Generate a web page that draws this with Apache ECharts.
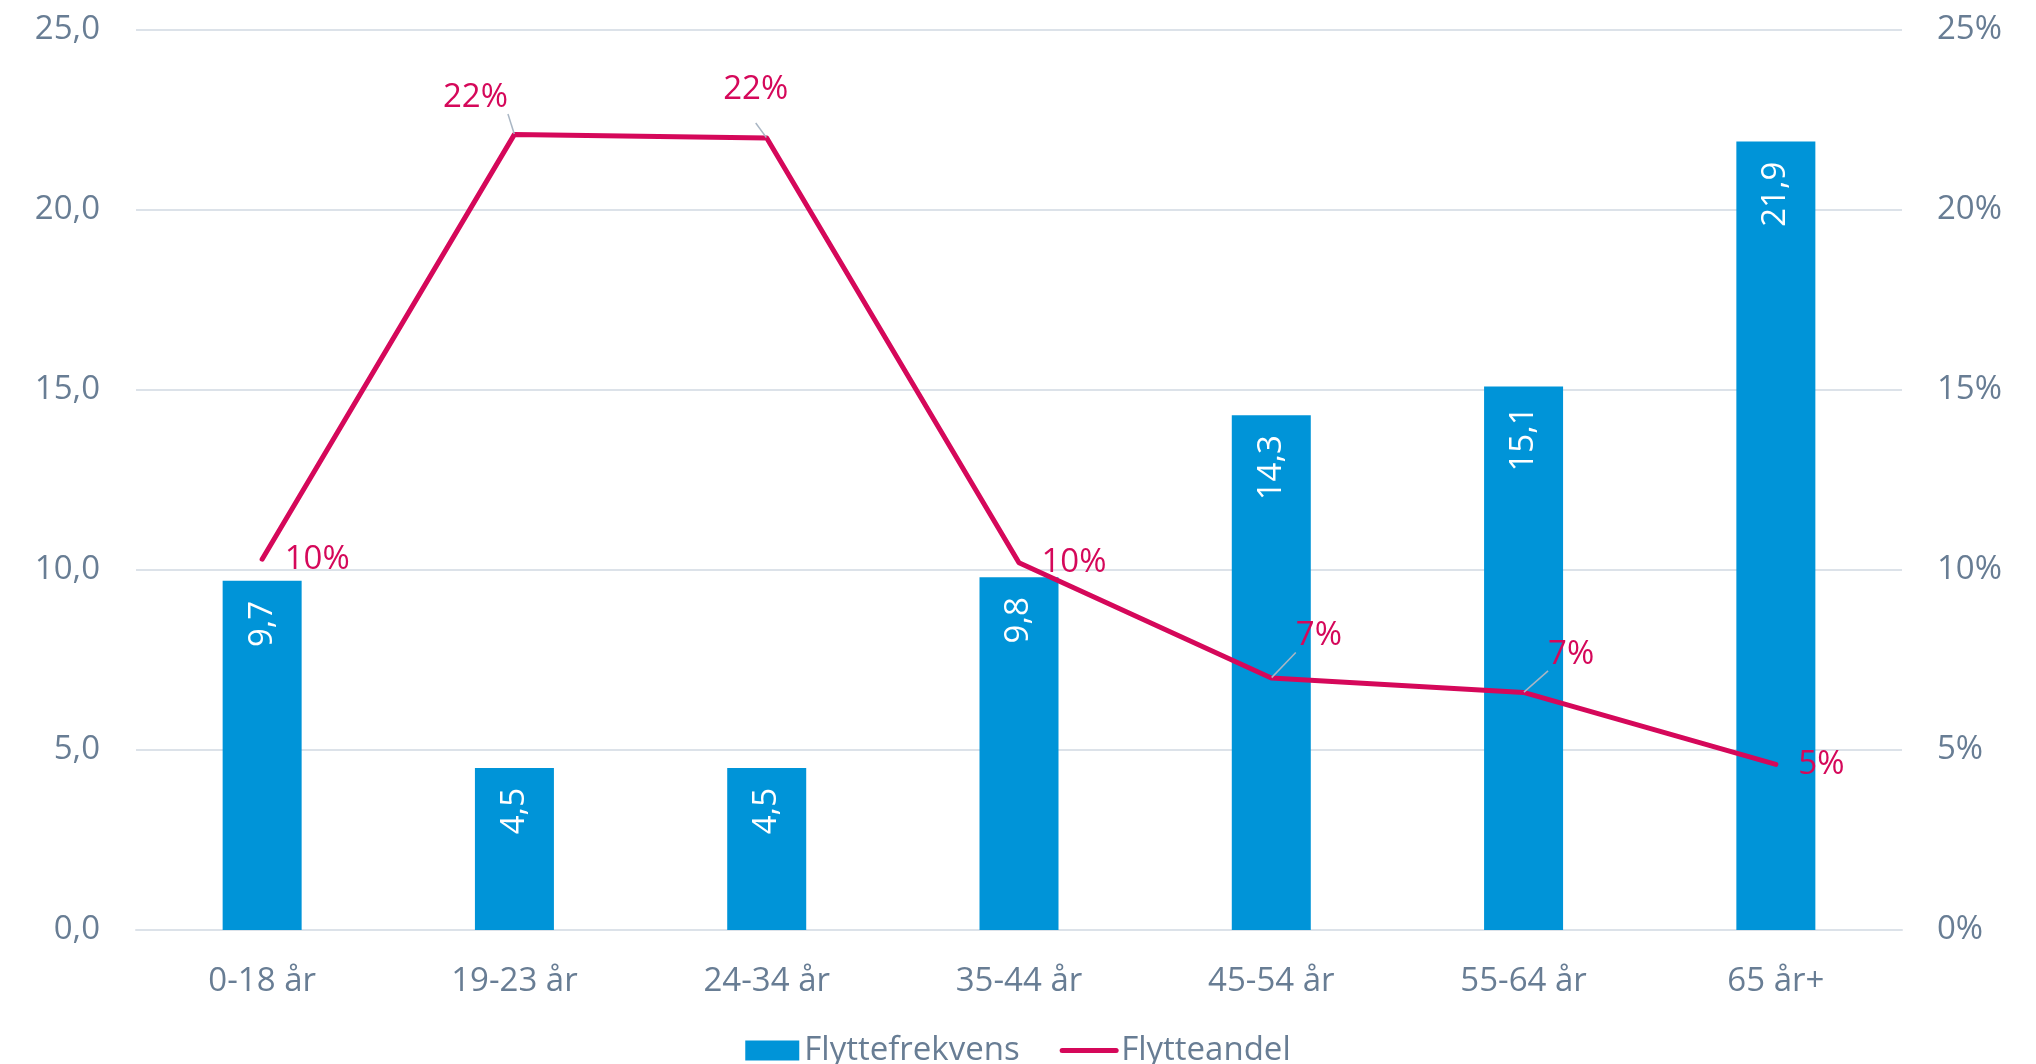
<!DOCTYPE html>
<html>
<head>
<meta charset="utf-8">
<script src="https://cdn.jsdelivr.net/npm/echarts@6/dist/echarts.min.js"></script>
<style>
  html, body { margin: 0; padding: 0; background: #fff; }
  #FlytteChart { width: 2036px; height: 1064px; }
</style>
</head>
<body>
<div id="FlytteChart"></div>
<script>
// data
const categories = ["0-18 år", "19-23 år", "24-34 år", "35-44 år", "45-54 år", "55-64 år", "65 år+"];
const flyttefrekvens = [9.7, 4.5, 4.5, 9.8, 14.3, 15.1, 21.9];
const flytteandel = [10.3, 22.1, 22.0, 10.2, 7.0, 6.6, 4.6];
const leftTicks = [0, 25, 5];   // min, max, interval
const rightTicks = [0, 25, 5];  // percent

// label nudges for the line labels (layout only)
const lineLabelOffsets = [[0, 0], [-94, -37], [-66, -48], [0, 0], [2, -42], [2, -38], [0, 0]];
const leaderShown = [false, true, true, false, true, true, false];

const textColor = "#687D94";
const gridColor = "#DCE2E9";
const blue = "#0094D8";
const red = "#D5085A";
const font = "Open Sans";

const comma = (v) => v.toFixed(1).replace(".", ",");

const lineData = flytteandel.map((v, i) => ({
  value: v,
  label: { offset: lineLabelOffsets[i] },
  labelLine: { show: leaderShown[i] },
}));

const option = {
  animation: false,
  backgroundColor: "#fff",
  textStyle: { fontFamily: font },
  grid: {
    left: 136,
    right: 134,
    top: 30,
    bottom: 134,
    containLabel: false,
    outerBoundsMode: "none",
  },
  legend: {
    top: 1029,
    left: "center",
    itemWidth: 54,
    itemHeight: 20,
    itemGap: 40,
    textStyle: { color: textColor, fontSize: 33, fontFamily: font },
    data: [
      { name: "Flyttefrekvens", icon: "rect" },
      {
        name: "Flytteandel",
        itemStyle: { opacity: 0 },
        lineStyle: { width: 5, cap: "round" },
      },
    ],
  },
  xAxis: {
    type: "category",
    data: categories,
    axisTick: { show: false },
    axisLine: { show: true, lineStyle: { color: gridColor, width: 2 } },
    axisLabel: { color: textColor, fontSize: 33, margin: 35, fontFamily: font },
  },
  yAxis: [
    {
      type: "value",
      min: leftTicks[0],
      max: leftTicks[1],
      interval: leftTicks[2],
      axisLine: { show: false },
      axisTick: { show: false },
      axisLabel: {
        color: textColor,
        fontSize: 33,
        margin: 36,
        fontFamily: font,
        formatter: (v) => comma(v),
      },
      splitLine: { lineStyle: { color: gridColor, width: 2 } },
    },
    {
      type: "value",
      min: rightTicks[0],
      max: rightTicks[1],
      interval: rightTicks[2],
      axisLine: { show: false },
      axisTick: { show: false },
      axisLabel: {
        color: textColor,
        fontSize: 33,
        margin: 35,
        fontFamily: font,
        formatter: (v) => v + "%",
      },
      splitLine: { show: false },
    },
  ],
  series: [
    {
      name: "Flyttefrekvens",
      type: "bar",
      yAxisIndex: 0,
      data: flyttefrekvens,
      barWidth: 79,
      itemStyle: { color: blue },
      label: {
        show: true,
        position: "insideTop",
        rotate: 90,
        align: "right",
        verticalAlign: "middle",
        distance: 20,
        color: "#fff",
        fontSize: 33,
        fontFamily: font,
        formatter: (p) => comma(p.value),
      },
    },
    {
      name: "Flytteandel",
      type: "line",
      yAxisIndex: 1,
      data: lineData,
      symbol: "circle",
      symbolSize: 1,
      itemStyle: { color: red },
      lineStyle: { color: red, width: 5, cap: "round", join: "round" },
      label: {
        show: true,
        position: "right",
        distance: 22,
        color: red,
        fontSize: 33,
        fontFamily: font,
        formatter: (p) => Math.round(p.value) + "%",
      },
      labelLine: {
        show: false,
        lineStyle: { color: "#A9B6C4", width: 1.5 },
      },
      z: 3,
    },
  ],
};

const myChart = echarts.init(document.getElementById("FlytteChart"));
myChart.setOption(option);
</script>
</body>
</html>
